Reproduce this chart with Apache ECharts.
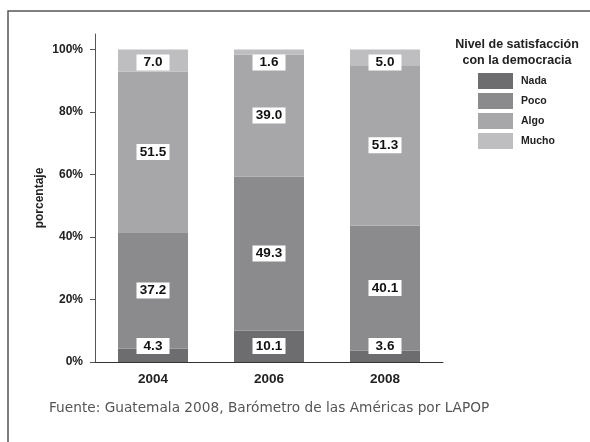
<!DOCTYPE html>
<html><head><meta charset="utf-8">
<script src="https://cdn.jsdelivr.net/npm/echarts@6/dist/echarts.min.js"></script>
<style>html,body{margin:0;padding:0;background:#fff}#c{width:590px;height:442px}</style>
</head><body><div id="c"></div>
<script>
var categories = ['2004', '2006', '2008'];
var nada = [4.3, 10.1, 3.6];
var poco = [37.2, 49.3, 40.1];
var algo = [51.5, 39.0, 51.3];
var mucho = [7.0, 1.6, 5.0];
var yTicks = [0, 20, 40, 60, 80, 100];
var seriesNames = ['Nada', 'Poco', 'Algo', 'Mucho'];

var F = 'Liberation Sans, Arial, sans-serif';
function lbl(pos, dist) {
  return {
    show: true, position: pos, distance: dist,
    formatter: function (p) { return p.value.toFixed(1); },
    backgroundColor: '#fff', color: '#111', fontFamily: F,
    fontWeight: 'bold', fontSize: 13.5, lineHeight: 14, padding: [1, 3],
    width: 27, align: 'center'
  };
}
var colors = ['#6d6d6f', '#8b8b8d', '#a7a7aa', '#bebec0'];
var data = [nada, poco, algo, mucho];
var labels = [lbl('insideBottom', 8), lbl('inside', 0), lbl('inside', 0), lbl('insideTop', 5)];

var chart = echarts.init(document.getElementById('c'));
chart.setOption({
  animation: false,
  color: colors,
  title: [
    { text: 'Fuente: Guatemala 2008, Barómetro de las Américas por LAPOP', left: 44, top: 396,
      textStyle: { fontFamily: 'DejaVu Sans, sans-serif', fontSize: 13.7, fontWeight: 'normal', color: '#555' } },
    { text: 'Nivel de satisfacción\ncon la democracia', left: 512, top: 32, textAlign: 'center',
      textStyle: { fontFamily: F, fontSize: 12.5, fontWeight: 'bold', color: '#222', lineHeight: 16 } }
  ],
  graphic: [{ type: 'rect', shape: { x: 8, y: 11, width: 600, height: 460 }, silent: true,
    style: { fill: 'none', stroke: '#555', lineWidth: 1.5 } }],
  legend: {
    orient: 'vertical', left: 473, top: 68, itemWidth: 35, itemHeight: 16, itemGap: 4,
    data: seriesNames, icon: 'rect',
    textStyle: { fontFamily: F, fontSize: 10.5, fontWeight: 'bold', color: '#222', padding: [0, 0, 2, 3] }
  },
  grid: { left: 95, right: 147, top: 34, bottom: 80 },
  xAxis: {
    type: 'category', data: categories,
    axisLine: { lineStyle: { color: '#333', width: 1 } },
    axisTick: { show: false },
    axisLabel: { fontFamily: F, fontSize: 13.5, fontWeight: 'bold', color: '#222', margin: 10 }
  },
  yAxis: {
    type: 'value', min: 0, max: 105,
    name: 'porcentaje', nameLocation: 'middle', nameGap: 49, nameRotate: 90,
    nameMoveOverlap: false,
    nameTextStyle: { fontFamily: F, fontSize: 12, fontWeight: 'bold', color: '#222' },
    splitLine: { show: false },
    axisLine: { show: true, lineStyle: { color: '#555', width: 1 } },
    axisTick: { show: true, length: 5, customValues: yTicks, lineStyle: { color: '#555' } },
    axisLabel: { customValues: yTicks, formatter: '{value}%', margin: 12,
      fontFamily: F, fontSize: 12, fontWeight: 'bold', color: '#222' }
  },
  series: seriesNames.map(function (n, i) {
    return { name: n, type: 'bar', stack: 'total', barWidth: 70, data: data[i], label: labels[i] };
  })
});
</script></body></html>
